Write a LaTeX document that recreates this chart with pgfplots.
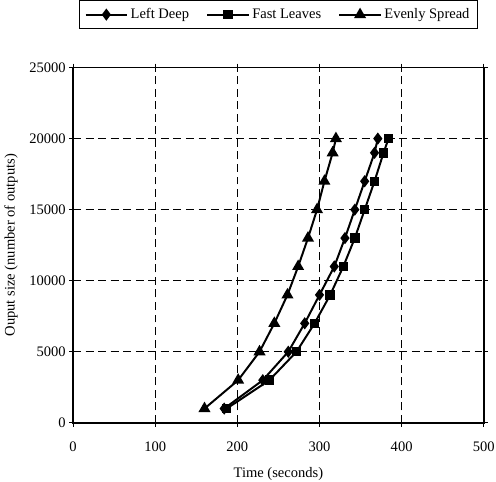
\documentclass[border=0pt]{standalone}
\usepackage{fontspec}
\setmainfont{Liberation Serif}
\usepackage{pgfplots}
\pgfplotsset{compat=1.18}

\begin{document}
\begin{tikzpicture}
  \begin{axis}[
    width=311pt, height=269pt, scale only axis,
    xmin=0, xmax=500, ymin=0, ymax=25000,
    xtick={0,100,...,500}, ytick={0,5000,...,25000},
    scaled ticks=false,
    /pgf/number format/assume math mode=true,
    /pgf/number format/1000 sep={},
    tick label style={font=\fontsize{11}{12}\selectfont},
    label style={font=\fontsize{11}{12}\selectfont},
    xticklabel style={inner sep=1pt, yshift=-10pt},
    yticklabel style={xshift=1pt},
    xlabel={Time (seconds)}, ylabel={Ouput size (number of outputs)},
    xlabel style={inner sep=1pt, yshift=-10pt},
    ylabel style={yshift=2pt},
    axis line style={line width=1.3pt},
    tick align=outside, tick style={black, line width=0.7pt},
    major tick length=3pt,
    grid=major, grid style={black, line width=0.7pt, dash pattern=on 6pt off 3.5pt},
    legend columns=3,
    legend style={at={(0.5,1)}, anchor=south, yshift=29pt,
      font=\fontsize{11}{12}\selectfont, draw=black, line width=0.9pt,
      inner sep=4pt, /tikz/every even column/.append style={column sep=11pt}},
    legend image code/.code={
      \draw[#1, mark repeat=2, mark phase=2] plot coordinates {(0cm,0cm) (0.55cm,0cm) (1.1cm,0cm)};},
    every axis plot/.append style={black, line width=1.5pt},
  ]
    \addplot[mark=diamond*, mark size=3.4pt] coordinates {
      (184,1000) (231,3000) (262,5000) (282,7000) (300,9000) (318,11000)
      (331,13000) (343,15000) (355,17000) (367,19000) (371,20000)
    };
    \addlegendentry{Left Deep}
    \addplot[mark=square*, mark size=2.8pt] coordinates {
      (187,1000) (239,3000) (272,5000) (294,7000) (313,9000) (329,11000)
      (343,13000) (355,15000) (367,17000) (378,19000) (384,20000)
    };
    \addlegendentry{Fast Leaves}
    \addplot[mark=triangle*, mark size=3.8pt] coordinates {
      (160,1000) (201,3000) (227,5000) (245,7000) (261,9000) (274,11000)
      (286,13000) (297,15000) (306,17000) (316,19000) (320,20000)
    };
    \addlegendentry{Evenly Spread}
  \end{axis}
\end{tikzpicture}
\end{document}
